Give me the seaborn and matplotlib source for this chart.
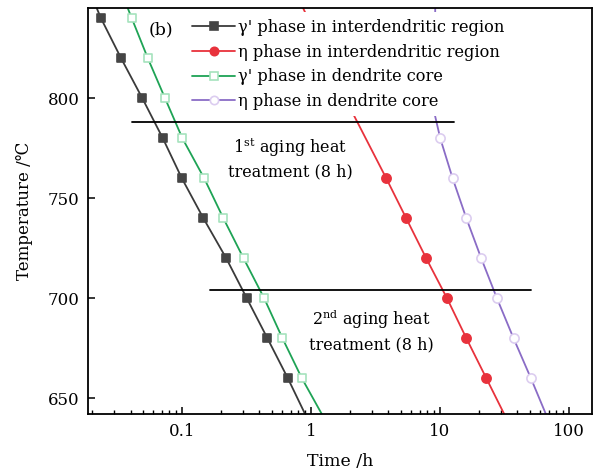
import numpy as np
import pandas as pd
import matplotlib
matplotlib.use('Agg')
import matplotlib.pyplot as plt
import seaborn as sns
from matplotlib.lines import Line2D
from matplotlib.ticker import LogLocator, FixedLocator, FixedFormatter, NullFormatter

# --- data (temperature in C, time in h) ---
# first/last points are the line ends at the plot edges (no marker)
T_gp_inter = [845, 840, 820, 800, 780, 760, 740, 720, 700, 680, 660, 642]
t_gp_inter = [0.0219, 0.0236, 0.0338, 0.0494, 0.0712, 0.100, 0.147, 0.221, 0.319, 0.461, 0.664, 0.905]

T_gp_core = [845, 840, 820, 800, 780, 760, 740, 720, 700, 680, 660, 642]
t_gp_core = [0.0381, 0.0409, 0.0545, 0.0741, 0.101, 0.149, 0.210, 0.301, 0.435, 0.603, 0.853, 1.22]

T_eta_inter = [845, 792.5, 760, 740, 720, 700, 680, 660, 642]
t_eta_inter = [0.874, 2.12, 3.85, 5.50, 7.86, 11.4, 16.1, 23.0, 31.7]

T_eta_core = [845, 792.5, 780, 760, 740, 720, 700, 680, 660, 642]
t_eta_core = [9.23, 9.11, 10.1, 12.6, 16.1, 21.0, 27.8, 37.4, 51.0, 66.7]

# aging treatment reference lines
aging1_T, aging1_t = 788.3, [0.041, 12.8]
aging2_T, aging2_t = 704.2, [0.164, 51.0]

labels = ["γ' phase in interdendritic region",
          "η phase in interdendritic region",
          "γ' phase in dendrite core",
          "η phase in dendrite core"]

sns.set_style('ticks')
plt.rcParams['font.family'] = ['DejaVu Serif', 'DejaVu Sans']
plt.rcParams['mathtext.fontset'] = 'dejavuserif'
plt.rcParams['text.color'] = 'black'
plt.rcParams['axes.labelcolor'] = 'black'
plt.rcParams['xtick.color'] = 'black'
plt.rcParams['ytick.color'] = 'black'

fig, ax = plt.subplots(figsize=(5.93, 4.74), dpi=100)
fig.subplots_adjust(left=0.1484, right=0.9978, bottom=0.126, top=0.984)

# style per series: (temps, times, marker slice, line color, marker, face, edge, size)
series = [
    (T_gp_inter, t_gp_inter, slice(1, -1), '#3a3a3a', 's', '#454545', '#454545', 38),
    (T_eta_inter, t_eta_inter, slice(2, -1), '#e8323c', 'o', '#e8323c', '#e8323c', 44),
    (T_gp_core, t_gp_core, slice(1, -1), '#1ea355', 's', 'white', '#a6e3bd', 38),
    (T_eta_core, t_eta_core, slice(2, -1), '#8a6cc6', 'o', 'white', '#dccdf0', 44),
]

handles = []
for T, t, sl, col, mk, fc, ec, sz in series:
    sns.lineplot(x=t, y=T, sort=False, estimator=None, color=col, lw=1.3, ax=ax)
    sns.scatterplot(x=t[sl], y=T[sl], marker=mk, s=sz, color=fc, edgecolor=ec,
                    linewidth=1.2, zorder=3, ax=ax)
    handles.append(Line2D([], [], color=col, lw=1.3, marker=mk, markersize=6,
                          markerfacecolor=fc, markeredgecolor=ec, markeredgewidth=1.2))

ax.plot(aging1_t, [aging1_T, aging1_T], color='black', lw=1.3)
ax.plot(aging2_t, [aging2_T, aging2_T], color='black', lw=1.3)

ax.text(0.691, 772.7, r'1$^{\rm st}$ aging heat', ha='center', va='baseline', fontsize=11.5)
ax.text(0.691, 760.8, 'treatment (8 h)', ha='center', va='baseline', fontsize=11.5)
ax.text(2.94, 686.7, r'2$^{\rm nd}$ aging heat', ha='center', va='baseline', fontsize=11.5)
ax.text(2.94, 674.4, 'treatment (8 h)', ha='center', va='baseline', fontsize=11.5)
ax.text(0.144, 0.945, '(b)', transform=ax.transAxes, ha='center', va='center', fontsize=12.5)

leg = ax.legend(handles, labels, loc='upper left', bbox_to_anchor=(0.1936, 0.988),
                borderaxespad=0, fontsize=11.7, handlelength=2.65, handletextpad=0.2,
                labelspacing=0.47, frameon=True, fancybox=False, framealpha=1,
                facecolor='white', edgecolor='none')
leg.set_zorder(10)

ax.set_xscale('log')
ax.set_xlim(0.0187, 151)
ax.set_ylim(642, 845.4)
ax.xaxis.set_major_locator(FixedLocator([0.1, 1, 10, 100]))
ax.xaxis.set_major_formatter(FixedFormatter(['0.1', '1', '10', '100']))
ax.xaxis.set_minor_locator(LogLocator(base=10, subs=np.arange(2, 10)))
ax.xaxis.set_minor_formatter(NullFormatter())
ax.set_yticks([650, 700, 750, 800])

ax.tick_params(which='major', direction='in', length=5, width=1.1, labelsize=12, pad=6)
ax.tick_params(which='minor', direction='in', length=3, width=1.0)
ax.tick_params(axis='y', which='minor', left=False)
for sp in ax.spines.values():
    sp.set_linewidth(1.3)
    sp.set_color('black')

ax.set_xlabel('Time /h', fontsize=12.5, labelpad=9.5)
ax.set_ylabel('Temperature /℃', fontsize=12, labelpad=11)

fig.savefig('out.png', dpi=100)
